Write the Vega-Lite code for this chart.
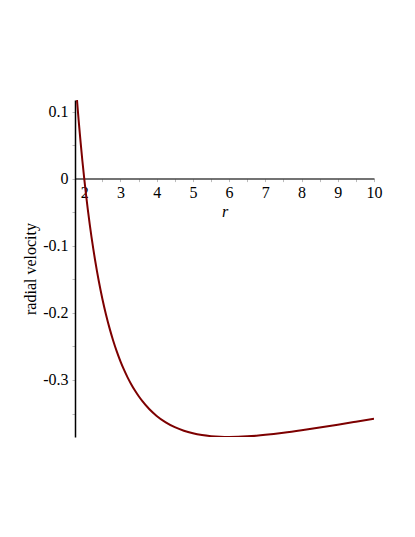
{
  "$schema": "https://vega.github.io/schema/vega-lite/v6.json",
  "width": 299,
  "height": 337,
  "autosize": {"type": "none"},
  "padding": {"left": 75, "top": 100, "right": 41, "bottom": 100},
  "background": "white",
  "config": {"view": {"stroke": null}, "font": "Liberation Serif"},
  "data": {"values": [
    {"r": 1.8, "v": 0.11712},
    {"r": 1.825, "v": 0.100383},
    {"r": 1.85, "v": 0.084304},
    {"r": 1.875, "v": 0.068853},
    {"r": 1.9, "v": 0.054},
    {"r": 1.95, "v": 0.025968},
    {"r": 2.0, "v": 0.0},
    {"r": 2.05, "v": -0.024091},
    {"r": 2.1, "v": -0.046471},
    {"r": 2.15, "v": -0.06729},
    {"r": 2.2, "v": -0.086678},
    {"r": 2.25, "v": -0.104757},
    {"r": 2.3, "v": -0.121631},
    {"r": 2.35, "v": -0.137398},
    {"r": 2.4, "v": -0.152145},
    {"r": 2.45, "v": -0.16595},
    {"r": 2.5, "v": -0.178885},
    {"r": 2.6, "v": -0.202398},
    {"r": 2.7, "v": -0.223135},
    {"r": 2.8, "v": -0.241472},
    {"r": 2.9, "v": -0.257727},
    {"r": 3.0, "v": -0.272166},
    {"r": 3.1, "v": -0.285013},
    {"r": 3.2, "v": -0.296463},
    {"r": 3.3, "v": -0.306681},
    {"r": 3.4, "v": -0.315809},
    {"r": 3.5, "v": -0.32397},
    {"r": 3.6, "v": -0.331269},
    {"r": 3.8, "v": -0.343646},
    {"r": 4.0, "v": -0.353553},
    {"r": 4.25, "v": -0.363173},
    {"r": 4.5, "v": -0.37037},
    {"r": 4.75, "v": -0.375671},
    {"r": 5.0, "v": -0.379473},
    {"r": 5.25, "v": -0.382084},
    {"r": 5.5, "v": -0.383742},
    {"r": 5.75, "v": -0.384631},
    {"r": 6.0, "v": -0.3849},
    {"r": 6.25, "v": -0.384666},
    {"r": 6.5, "v": -0.384023},
    {"r": 6.75, "v": -0.383048},
    {"r": 7.0, "v": -0.381802},
    {"r": 7.5, "v": -0.378692},
    {"r": 8.0, "v": -0.375},
    {"r": 8.5, "v": -0.370937},
    {"r": 9.0, "v": -0.366648},
    {"r": 9.5, "v": -0.362235},
    {"r": 10.0, "v": -0.357771}
  ]},
  "mark": {"type": "line", "color": "#7d0000", "strokeWidth": 2, "interpolate": "monotone", "clip": true},
  "encoding": {
    "x": {
      "field": "r", "type": "quantitative",
      "scale": {"domain": [1.745, 10], "nice": false, "zero": false},
      "axis": {
        "title": "r", "titleFont": "Liberation Serif", "titleFontStyle": "italic", "titleFontWeight": "normal", "titleFontSize": 16, "titleColor": "black",
        "titlePadding": 3,
        "offset": -258.4,
        "values": [2, 2.5, 3, 3.5, 4, 4.5, 5, 5.5, 6, 6.5, 7, 7.5, 8, 8.5, 9, 9.5, 10],
        "labelExpr": "datum.value % 1 == 0 ? format(datum.value, 'd') : ''",
        "labelFont": "Liberation Serif", "labelFontSize": 16, "labelColor": "black", "labelPadding": 3,
        "labelFlush": false, "labelOverlap": false, "labelBound": false,
        "grid": false, "domainColor": "#444444", "domainWidth": 1.5,
        "tickColor": "#bbbbbb", "tickSize": 3, "tickWidth": 1
      }
    },
    "y": {
      "field": "v", "type": "quantitative",
      "scale": {"domain": [-0.385, 0.1172], "nice": false, "zero": false},
      "axis": {
        "title": "radial velocity", "titleFont": "Liberation Serif", "titleFontWeight": "normal", "titleFontSize": 16, "titleColor": "black",
        "titlePadding": 4,
        "values": [-0.35, -0.3, -0.25, -0.2, -0.15, -0.1, -0.05, 0, 0.05, 0.1],
        "labelExpr": "abs(round(datum.value * 20)) % 2 == 0 ? (datum.value == 0 ? '0' : (datum.value < 0 ? '-' : '') + format(abs(datum.value), '.1f')) : ''",
        "labelFont": "Liberation Serif", "labelFontSize": 16, "labelColor": "black", "labelPadding": 4,
        "labelFlush": false, "labelOverlap": false,
        "grid": false, "domainColor": "black", "domainWidth": 1.5,
        "tickColor": "#bbbbbb", "tickSize": 3, "tickWidth": 1
      }
    }
  }
}
